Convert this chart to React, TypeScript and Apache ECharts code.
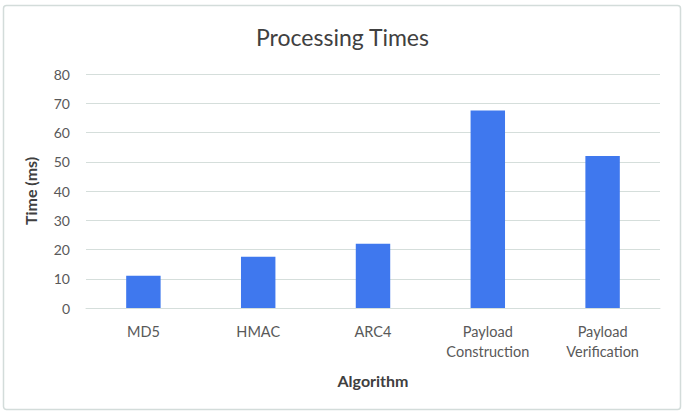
import React, { useEffect, useRef } from "react";
import * as echarts from "echarts";

const categories = ["MD5", "HMAC", "ARC4", "Payload\nConstruction", "Payload\nVerification"];
const times = [11, 17.5, 22, 67.5, 52];
const yTicks = { min: 0, max: 80, interval: 10 };

export default function App() {
  const ref = useRef<HTMLDivElement>(null);
  useEffect(() => {
    if (!ref.current) return;
    const chart = echarts.init(ref.current, null, { renderer: "svg" });
    const font = "Lato, 'Open Sans', sans-serif";
    chart.setOption({
      animation: false,
      backgroundColor: "#ffffff",
      textStyle: { fontFamily: font },
      title: {
        text: "Processing Times",
        left: "center",
        top: 20,
        textStyle: { fontFamily: font, fontSize: 23, fontWeight: "normal", color: "#404040" },
      },
      graphic: [
        {
          type: "rect",
          shape: { x: 3.5, y: 5.5, width: 677, height: 404, r: 3 },
          style: { fill: "none", stroke: "#D3DCDA", lineWidth: 1.5 },
          silent: true,
        },
      ],
      grid: { left: 86, right: 25, top: 74, bottom: 107 },
      xAxis: {
        type: "category",
        data: categories,
        name: "Algorithm",
        nameLocation: "middle",
        nameGap: 64,
        nameTextStyle: { fontFamily: font, fontSize: 16, fontWeight: "bold", color: "#404040" },
        axisLine: { show: true, lineStyle: { color: "#D5DEDB", width: 1 } },
        axisTick: { show: false },
        axisLabel: { fontFamily: font, fontSize: 14.5, color: "#595959", margin: 13, lineHeight: 20, interval: 0 },
      },
      yAxis: {
        type: "value",
        min: yTicks.min,
        max: yTicks.max,
        interval: yTicks.interval,
        name: "Time (ms)",
        nameLocation: "middle",
        nameGap: 48,
        nameTextStyle: { fontFamily: font, fontSize: 16, fontWeight: "bold", color: "#404040" },
        axisLine: { show: false },
        axisTick: { show: false },
        axisLabel: { fontFamily: font, fontSize: 14, color: "#595959", margin: 16 },
        splitLine: { lineStyle: { color: "#D5DEDB", width: 1 } },
      },
      series: [
        {
          type: "bar",
          data: times,
          barWidth: "30%",
          itemStyle: { color: "#3F78EE" },
        },
      ],
    });
    return () => chart.dispose();
  }, []);
  return <div ref={ref} style={{ position: "fixed", left: 0, top: 0, width: 685, height: 415 }} />;
}
